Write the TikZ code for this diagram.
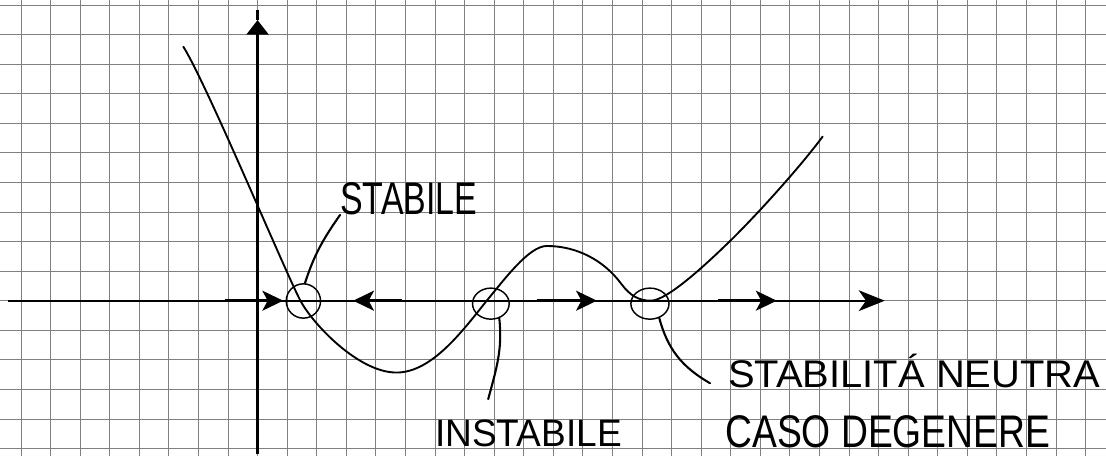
\documentclass[tikz,border=0pt]{standalone}
\usepackage{fontspec}
\setsansfont{Liberation Sans}
\usetikzlibrary{arrows.meta,shapes.geometric}
\tikzset{
  gridline/.style={draw=black!50, line width=0.8pt},
  axisline/.style={line width=2.2pt, black},
  flowarrow/.style={line width=3.2pt, -{Stealth[length=20pt,width=19pt,inset=5pt]}},
  fcurve/.style={line width=1.8pt, black, line cap=round},
  marker/.style={ellipse, draw, line width=1.4pt, inner sep=0pt},
  pointer/.style={line width=2pt, line cap=round},
  handtext/.style={inner sep=0pt, anchor=south west},
}
\newcommand{\fitext}[3]{\resizebox{#1cm}{#2cm}{\sffamily #3}}
\begin{document}
\begin{tikzpicture}
\fill[white] (-8.710,-5.252) rectangle (28.693,10.169);
\useasboundingbox (-8.710,-5.252) rectangle (28.693,10.169);
\draw[gridline] (-8.710,-5.252) grid (28.693,10.169);

% axes
\coordinate (xl) at (-8.44,0);
\coordinate (xr) at (21.21,0);
\coordinate (yb) at (0,-5.2);
\coordinate (yt) at (0,9.49);
\coordinate (ytt) at (0,9.83);
\draw[axisline, -{Stealth[length=25pt,width=20pt,inset=7pt]}] (xl) -- (xr);
\draw[line width=2.6pt, -{Triangle[length=14pt,width=21pt]}] (yb) -- (yt);
\draw[line width=2.2pt] (yt) -- (ytt);

% flow arrows
\coordinate (f1a) at (-1.10,0); \coordinate (f1b) at (0.87,0);
\coordinate (f2a) at (4.88,0);  \coordinate (f2b) at (3.23,0);
\coordinate (f3a) at (9.45,0);  \coordinate (f3b) at (11.48,0);
\coordinate (f4a) at (15.57,0); \coordinate (f4b) at (17.56,0);
\draw[flowarrow] (f1a) -- (f1b);
\draw[flowarrow] (f2a) -- (f2b);
\draw[flowarrow] (f3a) -- (f3b);
\draw[flowarrow] (f4a) -- (f4b);

% the function
\draw[fcurve] (-2.51,8.59) .. controls (-1.71,7.31) and (0.90,1.05) .. (1.45,0)
  .. controls (1.85,-0.76) and (3.40,-2.43) .. (4.70,-2.43)
  .. controls (5.90,-2.43) and (6.95,-1.00) .. (7.75,0)
  .. controls (8.35,0.72) and (9.18,1.85) .. (9.78,1.85)
  .. controls (10.78,1.85) and (11.70,1.38) .. (12.30,0.57)
  .. controls (12.60,0.165) and (12.90,0) .. (13.30,0)
  .. controls (13.85,0) and (15.18,1.24) .. (15.98,2.02)
  .. controls (16.98,3.00) and (18.41,4.60) .. (19.11,5.55);

% equilibrium markers
\node[marker, minimum width=1.16cm, minimum height=1.16cm] (cs) at (1.55,-0.01) {};
\node[marker, minimum width=1.24cm, minimum height=1.05cm] (ci) at (7.89,-0.10) {};
\node[marker, minimum width=1.29cm, minimum height=1.05cm] (cn) at (13.27,-0.10) {};

% labels
\node[handtext] (ts) at (2.79,2.90) {\fitext{4.63}{1.08}{STABILE}};
\node[handtext] (ti) at (6.00,-4.94) {\fitext{6.31}{0.90}{INSTABILE}};
\node[handtext] (tn) at (15.91,-2.96) {\fitext{12.58}{1.13}{STABILITÁ NEUTRA}};
\node[handtext] (tc) at (15.81,-4.99) {\fitext{10.99}{1.08}{CASO DEGENERE}};

% pointers
\coordinate (pi) at (7.80,-3.33);
\coordinate (pn) at (15.30,-2.79);
\draw[pointer] (cs.85) to[out=72,in=235] (ts.south west);
\draw[pointer] (ci.-60) to[out=-84,in=75] (pi);
\draw[pointer] (cn.-57) to[out=-75,in=150] (pn);
\end{tikzpicture}
\end{document}
